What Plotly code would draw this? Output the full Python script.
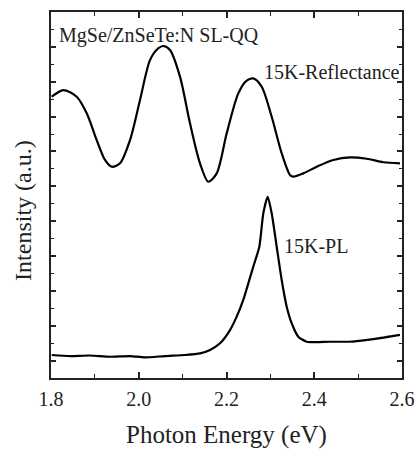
import plotly.graph_objects as go

# Reflectance spectrum (15 K)
refl_energy = [1.8016, 1.828, 1.8586, 1.8814, 1.9042, 1.9231, 1.9383, 1.9573, 1.9801, 2.0029,
               2.0256, 2.0446, 2.0560, 2.0712, 2.0940, 2.1168, 2.1396, 2.1585, 2.1777, 2.2005,
               2.2269, 2.2460, 2.2611, 2.2802, 2.3030, 2.3258, 2.3447, 2.3522, 2.3750, 2.4056,
               2.4434, 2.4815, 2.5195, 2.5574, 2.5954]
refl_intensity = [16.14, 16.52, 16.14, 15.19, 13.65, 12.51, 12.12, 12.32, 13.65, 15.95,
                  18.24, 18.92, 19.05, 18.82, 17.29, 14.61, 12.32, 11.26, 11.74, 14.04,
                  16.33, 17.06, 17.19, 16.71, 14.99, 12.89, 11.65, 11.55, 11.74, 12.12,
                  12.51, 12.66, 12.58, 12.38, 12.32]

# Photoluminescence spectrum (15 K)
pl_energy = [1.8016, 1.8433, 1.8889, 1.9345, 1.9801, 2.0142, 2.0598, 2.1054, 2.1396, 2.1624,
             2.1852, 2.2080, 2.2232, 2.2383, 2.2497, 2.2611, 2.2748, 2.2839, 2.2939, 2.3030,
             2.3144, 2.3258, 2.3372, 2.3486, 2.3636, 2.3828, 2.4359, 2.4883, 2.5385, 2.5954]
pl_intensity = [1.32, 1.26, 1.29, 1.22, 1.26, 1.18, 1.26, 1.32, 1.41, 1.61,
                1.99, 2.75, 3.52, 4.48, 5.43, 6.39, 7.53, 9.45, 10.40, 9.45,
                7.53, 5.62, 4.09, 3.14, 2.37, 2.08, 2.08, 2.09, 2.24, 2.47]

x_tick_vals = [1.8, 2.0, 2.2, 2.4, 2.6]
x_tick_text = ["1.8", "2.0", "2.2", "2.4", "2.6"]

FONT = "Liberation Serif"

fig = go.Figure()
fig.add_trace(go.Scatter(x=refl_energy, y=refl_intensity, mode="lines",
                         line=dict(color="black", width=2.2, shape="spline", smoothing=0.8),
                         hoverinfo="skip", showlegend=False))
fig.add_trace(go.Scatter(x=pl_energy, y=pl_intensity, mode="lines",
                         line=dict(color="black", width=2.2, shape="spline", smoothing=0.6),
                         hoverinfo="skip", showlegend=False))

fig.update_layout(
    width=415, height=449,
    margin=dict(l=51, r=13, t=12, b=71, autoexpand=False),
    paper_bgcolor="white", plot_bgcolor="white",
    font=dict(family=FONT, color="#222", size=20),
    xaxis=dict(range=[1.8, 2.6], tickvals=x_tick_vals, ticktext=x_tick_text,
               ticks="inside", ticklen=6, tickwidth=1.5, tickcolor="#222",
               minor=dict(dtick=0.1, ticks="inside", ticklen=4, tickwidth=1.2, tickcolor="#222"),
               showline=True, linecolor="#222", linewidth=1.8, mirror="ticks",
               showgrid=False, zeroline=False, ticklabelstandoff=2, automargin=False,
               tickfont=dict(family=FONT, size=20, color="#222")),
    yaxis=dict(range=[0, 21], tick0=1, dtick=2, showticklabels=False,
               ticks="inside", ticklen=5, tickwidth=1.5, tickcolor="#222",
               minor=dict(dtick=1, ticks="inside", ticklen=3, tickwidth=1.2, tickcolor="#222"),
               showline=True, linecolor="#222", linewidth=1.8, mirror="ticks",
               showgrid=False, zeroline=False, automargin=False),
    annotations=[
        dict(text="Photon Energy (eV)", xref="paper", yref="paper", x=0.5, y=-0.1557,
             xanchor="center", yanchor="middle", showarrow=False,
             font=dict(family=FONT, size=25, color="#222")),
        dict(text="Intensity (a.u.)", xref="paper", yref="paper", x=-0.08, y=0.459,
             xanchor="center", yanchor="middle", showarrow=False, textangle=-90,
             font=dict(family=FONT, size=24, color="#222")),
        dict(text="MgSe/ZnSeTe:N SL-QQ", xref="paper", yref="paper", x=0.017, y=0.937,
             xanchor="left", yanchor="middle", showarrow=False,
             font=dict(family=FONT, size=20, color="#222")),
        dict(text="15K-Reflectance", xref="paper", yref="paper", x=0.601, y=0.836,
             xanchor="left", yanchor="middle", showarrow=False,
             font=dict(family=FONT, size=20, color="#222")),
        dict(text="15K-PL", xref="paper", yref="paper", x=0.658, y=0.3607,
             xanchor="left", yanchor="middle", showarrow=False,
             font=dict(family=FONT, size=20, color="#222")),
    ],
)

fig.write_html("out.html", config={"displayModeBar": False},
               post_script="document.body.style.margin='0';document.body.style.padding='0';")
